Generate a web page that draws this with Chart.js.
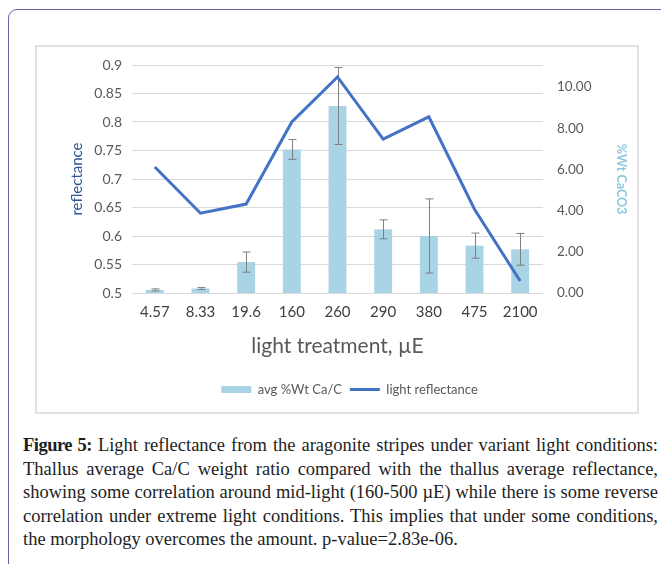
<!DOCTYPE html>
<html>
<head>
<meta charset="utf-8">
<script src="https://cdn.jsdelivr.net/npm/chart.js@4/dist/chart.umd.min.js"></script>
<style>
  html, body { margin: 0; padding: 0; background: #ffffff; overflow: hidden; }
  body { width: 661px; height: 564px; position: relative; }
  .frame {
    position: absolute; left: 8px; top: 9px; width: 720px; height: 620px;
    border: 1.5px solid #6a62a6; border-radius: 9px; box-sizing: border-box;
  }
  .chartbox {
    position: absolute; left: 35px; top: 45px; width: 604px; height: 369px;
    border: 2px solid #e2e2e2; box-sizing: border-box; background: #fff;
  }
  #chart { position: absolute; left: 37px; top: 47px; }
  .caption {
    position: absolute; left: 23px; top: 434px; width: 635px;
    font-family: "Liberation Serif", "Times New Roman", serif;
    font-size: 18.5px; color: #1e1e1e;
  }
  .caption div { height: 23.6px; line-height: 23.6px; white-space: nowrap; }
  .caption span.line { display: inline-block; white-space: nowrap; }
  .caption b { letter-spacing: -0.5px; }
</style>
</head>
<body>
<div class="frame"></div>
<div class="chartbox"></div>
<canvas id="chart" width="600" height="365" style="width:600px;height:365px"></canvas>
<div class="caption">
  <div class="j"><span class="line"><b>Figure 5:</b> Light reflectance from the aragonite stripes under variant light conditions:</span></div>
  <div class="j"><span class="line">Thallus average Ca/C weight ratio compared with the thallus average reflectance,</span></div>
  <div class="j"><span class="line">showing some correlation around mid-light (160-500 µE) while there is some reverse</span></div>
  <div class="j"><span class="line">correlation under extreme light conditions. This implies that under some conditions,</span></div>
  <div><span class="line">the morphology overcomes the amount. p-value=2.83e-06.</span></div>
</div>
<script>
// light treatments (µE)
const categories = ['4.57', '8.33', '19.6', '160', '260', '290', '380', '475', '2100'];
// average thallus reflectance
const reflectance = [0.721, 0.640, 0.656, 0.800, 0.879, 0.770, 0.809, 0.647, 0.521];
// average %Wt Ca/C and its error
const caWt = [0.15, 0.22, 1.50, 6.97, 9.08, 3.09, 2.77, 2.30, 2.12];
const caErr = [0.05, 0.05, 0.49, 0.48, 1.87, 0.46, 1.80, 0.61, 0.77];
// axis ticks
const leftTicks = [0.5, 0.55, 0.6, 0.65, 0.7, 0.75, 0.8, 0.85, 0.9];
const rightTicks = [0, 2, 4, 6, 8, 10];

const FONT = 'Lato, "Open Sans", sans-serif';
const GREY = '#595959';

// justify caption lines to the full column width
document.querySelectorAll('.caption div.j span.line').forEach(el => {
  const spaces = (el.textContent.match(/ /g) || []).length;
  const natural = el.getBoundingClientRect().width;
  el.style.wordSpacing = ((635 - natural) / spaces) + 'px';
});

// error bars for the bar series, drawn right after the bars
const errorBars = {
  id: 'errorBars',
  afterDatasetDraw(chart, args) {
    if (args.index !== 0) return;
    const ctx = chart.ctx;
    const ys = chart.scales.y1;
    ctx.save();
    ctx.strokeStyle = '#7f7f7f';
    ctx.lineWidth = 1;
    args.meta.data.forEach((bar, i) => {
      const x = Math.round(bar.x) + 0.5;
      const top = ys.getPixelForValue(caWt[i] + caErr[i]);
      const bot = ys.getPixelForValue(caWt[i] - caErr[i]);
      ctx.beginPath();
      ctx.moveTo(x, top); ctx.lineTo(x, bot);
      ctx.moveTo(x - 4, top); ctx.lineTo(x + 4, top);
      ctx.moveTo(x - 4, bot); ctx.lineTo(x + 4, bot);
      ctx.stroke();
    });
    ctx.restore();
  }
};

// keep the vertical axes from reserving extra room above the plot
function fixVertical(width) {
  return s => { s.width = width; s.paddingTop = 8; s.paddingBottom = 8; };
}

new Chart(document.getElementById('chart'), {
  data: {
    labels: categories,
    datasets: [
      {
        type: 'bar',
        label: 'avg %Wt Ca/C',
        data: caWt,
        yAxisID: 'y1',
        backgroundColor: '#a9d4e5',
        barPercentage: 0.8,
        categoryPercentage: 0.49,
        pointStyle: 'rect',
        order: 2
      },
      {
        type: 'line',
        label: 'light reflectance',
        data: reflectance,
        yAxisID: 'y',
        borderColor: '#4472c4',
        backgroundColor: '#4472c4',
        borderWidth: 3,
        pointRadius: 0,
        tension: 0,
        pointStyle: 'line',
        order: 1
      }
    ]
  },
  options: {
    responsive: false,
    animation: false,
    layout: { padding: { top: 18, left: 25, right: 0, bottom: 6 } },
    plugins: {
      tooltip: { enabled: false },
      legend: {
        position: 'bottom',
        labels: {
          usePointStyle: true,
          pointStyleWidth: 30,
          boxHeight: 7,
          padding: 8,
          color: GREY,
          font: { family: FONT, size: 13 },
          sort: (a, b) => a.datasetIndex - b.datasetIndex
        }
      }
    },
    scales: {
      x: {
        grid: { display: false, drawTicks: false },
        border: { display: false },
        ticks: { color: '#404040', font: { family: FONT, size: 15 }, padding: 10, maxRotation: 0 },
        title: { display: true, text: 'light treatment, µE', color: GREY, font: { family: FONT, size: 21 }, padding: { top: 4, bottom: 16 } },
        afterFit(s) { s.height = 82; }
      },
      y: {
        position: 'left',
        min: 0.5,
        max: 0.9,
        afterBuildTicks(s) { s.ticks = leftTicks.map(v => ({ value: v })); },
        grid: { color: '#d9d9d9', drawTicks: false },
        border: { display: false },
        ticks: { color: GREY, font: { family: FONT, size: 14 }, padding: 10, callback: v => String(parseFloat(v.toFixed(2))) },
        title: { display: true, text: 'reflectance', color: '#2f5597', font: { family: FONT, size: 15 }, padding: { top: 6, bottom: 4 } },
        afterFit: fixVertical(70)
      },
      y1: {
        position: 'right',
        min: 0,
        max: 11.07,
        afterBuildTicks(s) { s.ticks = rightTicks.map(v => ({ value: v })); },
        grid: { display: false, drawTicks: false },
        border: { display: false },
        ticks: { color: GREY, font: { family: FONT, size: 13.5 }, padding: 14, callback: v => v.toFixed(2) },
        title: { display: true, text: '%Wt CaCO3', color: '#8ec8de', font: { family: FONT, size: 12.5, weight: 'bold' }, padding: { top: 8, bottom: 4 } },
        afterFit: fixVertical(94)
      }
    }
  },
  plugins: [errorBars]
});
</script>
</body>
</html>
